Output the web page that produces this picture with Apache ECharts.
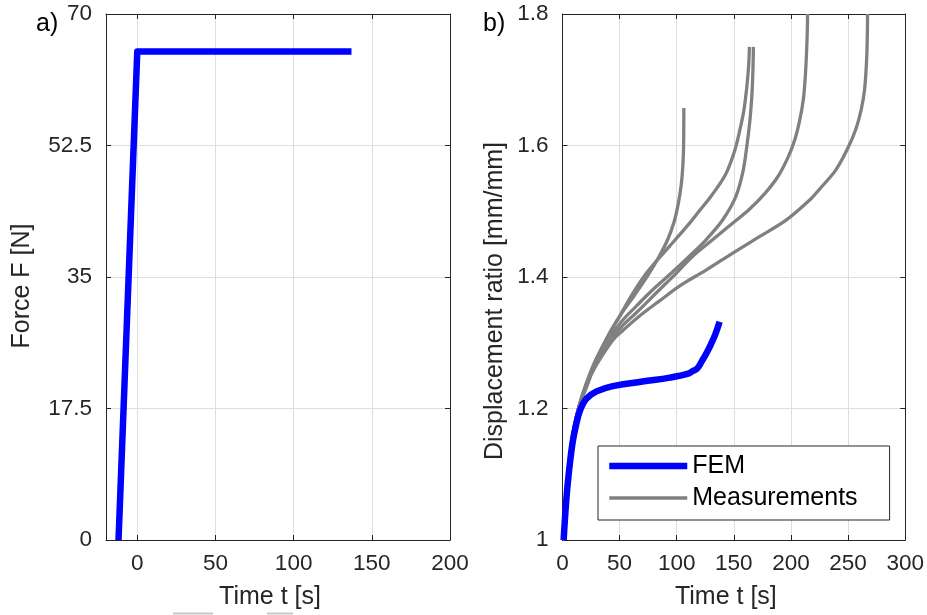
<!DOCTYPE html>
<html><head><meta charset="utf-8">
<script src="https://cdn.jsdelivr.net/npm/echarts@6/dist/echarts.min.js"></script>
<style>html,body{margin:0;padding:0;background:#fff}#c{width:927px;height:615px}</style>
</head><body><div id="c"></div>
<script>
// ---- Panel a) force ----
const forceTime  = [-12, 0, 137];
const forceValue = [0, 65, 65];

// ---- Panel b) FEM displacement ratio ----
const femTime  = [1, 3.6, 6.5, 9, 11.5, 15.3, 21, 29.8, 44, 70, 94, 110, 114, 118, 122, 126, 130, 134, 137.5];
const femRatio = [1.0, 1.067, 1.117, 1.15, 1.172, 1.197, 1.215, 1.226, 1.234, 1.241, 1.247, 1.253, 1.257, 1.261, 1.272, 1.284, 1.298, 1.314, 1.332];

// ---- Panel b) measurements (5 specimens) ----
const measATime  = [0, 3.6, 8, 14, 21.4, 30.1, 40.6, 51.1, 63.3, 74.6, 84.2, 92.1, 97.7, 101.2, 103.9, 105.4, 106.0, 106.2];
const measARatio = [1.0, 1.067, 1.15, 1.2, 1.234, 1.275, 1.313, 1.343, 1.373, 1.402, 1.43, 1.457, 1.484, 1.51, 1.54, 1.571, 1.601, 1.657];

const measBTime  = [0, 3.6, 8, 14, 20, 28, 38, 50.2, 61.8, 73.5, 83.6, 93.8, 111.3, 120.0, 130.5, 142.7, 150.5, 155.3, 158.8, 161.5, 163.0, 163.6];
const measBRatio = [1.0, 1.067, 1.15, 1.2, 1.234, 1.27, 1.304, 1.341, 1.376, 1.406, 1.427, 1.447, 1.482, 1.501, 1.524, 1.556, 1.591, 1.624, 1.654, 1.692, 1.723, 1.75];

const measCTime  = [0, 3.6, 8, 14, 21, 29, 40, 52, 64.8, 79.2, 95.3, 111.3, 125.9, 140.3, 151.4, 157.8, 161.5, 164.1, 165.8, 166.7, 167.1];
const measCRatio = [1.0, 1.067, 1.15, 1.2, 1.238, 1.27, 1.304, 1.333, 1.356, 1.381, 1.406, 1.432, 1.457, 1.487, 1.521, 1.559, 1.601, 1.639, 1.677, 1.715, 1.75];

const measDTime  = [0, 3.6, 8, 14, 21, 30, 42, 52, 64.8, 82.2, 99.7, 114.2, 131.6, 149.1, 163.6, 177.6, 189.0, 197.7, 203.4, 207.7, 210.8, 212.5, 213.7, 214.3, 214.5];
const measDRatio = [1.0, 1.067, 1.15, 1.2, 1.237, 1.27, 1.304, 1.325, 1.346, 1.376, 1.406, 1.432, 1.457, 1.482, 1.503, 1.528, 1.554, 1.583, 1.609, 1.639, 1.67, 1.704, 1.745, 1.776, 1.8];

const measETime  = [0, 3.6, 8, 14, 22, 31, 44, 52.3, 66.9, 84.4, 104.9, 125.3, 148.7, 172, 195.4, 216.9, 224.7, 239.3, 249.2, 256.6, 261.4, 264.4, 266.2, 266.9, 267.0];
const measERatio = [1.0, 1.067, 1.15, 1.2, 1.24, 1.27, 1.304, 1.318, 1.34, 1.363, 1.389, 1.41, 1.436, 1.461, 1.486, 1.518, 1.533, 1.563, 1.594, 1.624, 1.654, 1.685, 1.73, 1.776, 1.8];

// ---- ticks / labels ----
const leftXTicks  = [0, 50, 100, 150, 200];
const leftYTicks  = [0, 17.5, 35, 52.5, 70];
const rightXTicks = [0, 50, 100, 150, 200, 250, 300];
const rightYTicks = [1, 1.2, 1.4, 1.6, 1.8];
const leftXName = 'Time t [s]';
const leftYName = 'Force F [N]';
const rightXName = 'Time t [s]';
const rightYName = 'Displacement ratio [mm/mm]';
const legendNames = ['FEM', 'Measurements'];
const panelLabels = ['a)', 'b)'];

const zip = (a, b) => a.map((v, i) => [v, b[i]]);
const FONT = "'Liberation Sans', Arial, Helvetica, sans-serif";
const AX = '#262626';
const GRIDC = '#dedede';

function xAx(gi, ticks, pos, name, main) {
  return {
    type: 'value', gridIndex: gi, position: pos,
    min: ticks === leftXTicks ? -20 : ticks[0], max: ticks[ticks.length - 1],
    axisLine: { show: true, onZero: false, lineStyle: { color: AX, width: 1 } },
    axisTick: { show: true, inside: true, length: 5, customValues: ticks, lineStyle: { color: AX } },
    axisLabel: { show: main, customValues: ticks, margin: 12, color: AX, fontSize: 22.5, fontFamily: FONT },
    splitLine: { show: main, lineStyle: { color: GRIDC, width: 1 } },
    name: main ? name : '', nameLocation: 'middle', nameGap: 45,
    nameTextStyle: { color: AX, fontSize: 25, fontFamily: FONT, padding: [0, 16, 0, 0] }
  };
}
function yAx(gi, ticks, pos, name, main, gap, pad) {
  return {
    type: 'value', gridIndex: gi, position: pos,
    min: ticks[0], max: ticks[ticks.length - 1],
    axisLine: { show: true, onZero: false, lineStyle: { color: AX, width: 1 } },
    axisTick: { show: true, inside: true, length: 5, customValues: ticks, lineStyle: { color: AX } },
    axisLabel: { show: main, customValues: ticks, margin: 14, color: AX, fontSize: 22.5, fontFamily: FONT },
    splitLine: { show: main, lineStyle: { color: GRIDC, width: 1 } },
    name: main ? name : '', nameLocation: 'middle', nameGap: gap,
    nameTextStyle: { color: AX, fontSize: 25, fontFamily: FONT, padding: pad }
  };
}

const grayStyle = { color: '#808080', width: 3.3 };
function meas(t, v) {
  return { name: legendNames[1], type: 'line', xAxisIndex: 2, yAxisIndex: 2, data: zip(t, v),
    symbol: 'none', smooth: 0.35, lineStyle: grayStyle, itemStyle: { color: '#808080' }, z: 2, silent: true };
}

const chart = echarts.init(document.getElementById('c'), null, { renderer: 'canvas' });
chart.setOption({
  animation: false,
  backgroundColor: '#fff',
  grid: [
    { left: 106, top: 14, width: 344, height: 527 },
    { left: 562.5, top: 14, width: 343.5, height: 527 }
  ],
  xAxis: [
    xAx(0, leftXTicks, 'bottom', leftXName, true),
    xAx(0, leftXTicks, 'top', '', false),
    xAx(1, rightXTicks, 'bottom', rightXName, true),
    xAx(1, rightXTicks, 'top', '', false)
  ],
  yAxis: [
    yAx(0, leftYTicks, 'left', leftYName, true, 71, [0, 18, 0, 0]),
    yAx(0, leftYTicks, 'right', '', false, 0, 0),
    yAx(1, rightYTicks, 'left', rightYName, true, 55, [0, 48, 0, 0]),
    yAx(1, rightYTicks, 'right', '', false, 0, 0)
  ],
  legend: {
    data: legendNames, orient: 'vertical', left: 598, top: 446,
    padding: [7.5, 32, 9.5, 8], itemGap: 7, itemWidth: 78, itemHeight: 14,
    backgroundColor: '#fff', borderColor: AX, borderWidth: 1, borderRadius: 0,
    selectedMode: false,
    itemStyle: { opacity: 0 },
    lineStyle: { width: 'inherit' },
    textStyle: { color: '#000', fontSize: 25, fontFamily: FONT }
  },
  graphic: [
    { type: 'text', left: 36, top: 12, style: { text: panelLabels[0], fill: '#000', font: '25px ' + FONT } },
    { type: 'text', left: 483, top: 12, style: { text: panelLabels[1], fill: '#000', font: '25px ' + FONT } },
    { type: 'line', shape: { x1: 173, y1: 613.5, x2: 213, y2: 613.5 }, style: { stroke: '#c8c8c8', lineWidth: 2 } },
    { type: 'line', shape: { x1: 267, y1: 613.5, x2: 293, y2: 613.5 }, style: { stroke: '#c8c8c8', lineWidth: 2 } }
  ],
  series: [
    { name: 'Force', type: 'line', xAxisIndex: 0, yAxisIndex: 0, data: zip(forceTime, forceValue),
      symbol: 'none', lineStyle: { color: '#0000ff', width: 6.5, join: 'round' }, itemStyle: { color: '#0000ff' }, silent: true },
    meas(measATime, measARatio),
    meas(measBTime, measBRatio),
    meas(measCTime, measCRatio),
    meas(measDTime, measDRatio),
    meas(measETime, measERatio),
    { name: legendNames[0], type: 'line', xAxisIndex: 2, yAxisIndex: 2, data: zip(femTime, femRatio),
      symbol: 'none', smooth: 0.4, lineStyle: { color: '#0000ff', width: 6.5 }, itemStyle: { color: '#0000ff' }, z: 3, silent: true }
  ]
});
</script></body></html>
